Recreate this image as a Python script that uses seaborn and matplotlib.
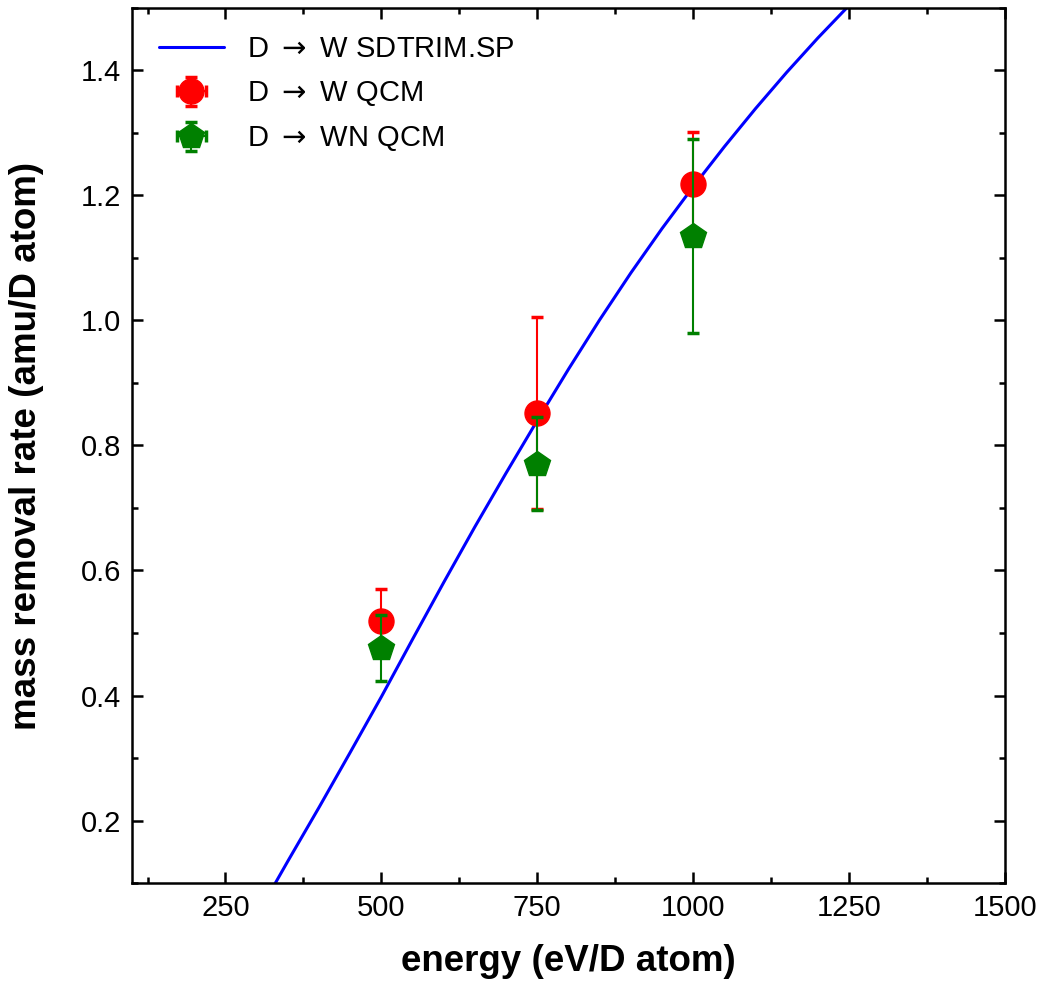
import numpy as np
import pandas as pd
import matplotlib
matplotlib.use("Agg")
import matplotlib.pyplot as plt
import seaborn as sns
from matplotlib.ticker import MultipleLocator

# SDTRIM.SP simulated mass removal rate (amu per D atom) vs energy (eV per D atom)
sim_energy = [300, 330, 350, 400, 450, 500, 550, 600, 650, 700, 750, 800,
              850, 900, 950, 1000, 1050, 1100, 1150, 1200, 1250, 1300]
sim_rate = [0.048, 0.100, 0.135, 0.221, 0.309, 0.398, 0.490, 0.581, 0.670,
            0.756, 0.840, 0.922, 1.001, 1.076, 1.147, 1.214, 1.278, 1.339,
            1.397, 1.452, 1.504, 1.554]

# QCM measurements
qcm_energy = [500, 750, 1000]
w_rate = [0.519, 0.852, 1.219]
w_err = [0.052, 0.154, 0.082]
wn_rate = [0.476, 0.771, 1.135]
wn_err = [0.052, 0.074, 0.155]

labels = [r"D $\rightarrow$ W SDTRIM.SP", r"D $\rightarrow$ W QCM",
          r"D $\rightarrow$ WN QCM"]

sns.set_theme(style="ticks")
plt.rcParams["font.family"] = ["Liberation Sans", "DejaVu Sans"]
plt.rcParams["mathtext.fontset"] = "dejavusans"
for key in ["text.color", "axes.labelcolor", "xtick.color", "ytick.color"]:
    plt.rcParams[key] = "black"

fig = plt.figure(figsize=(10.44, 9.82), dpi=100)
ax = fig.add_axes([0.1264, 0.1008, 0.8362, 0.8911])

sim = pd.DataFrame({"energy": sim_energy, "rate": sim_rate})
sns.lineplot(data=sim, x="energy", y="rate", ax=ax, color="#0000ff",
             linewidth=2.2, label=labels[0], zorder=1)

ax.errorbar(qcm_energy, w_rate, yerr=w_err, xerr=[0, 0, 0], fmt="o",
            color="#ff0000", markersize=18, elinewidth=1.5, capsize=4,
            capthick=2.5, label=labels[1], zorder=3)
ax.errorbar(qcm_energy, wn_rate, yerr=wn_err, xerr=[0, 0, 0], fmt="p",
            color="#008000", markersize=19, elinewidth=1.5, capsize=4,
            capthick=2.5, label=labels[2], zorder=4)

ax.set_xlim(100, 1500)
ax.set_ylim(0.1, 1.5)
ax.xaxis.set_major_locator(MultipleLocator(250))
ax.xaxis.set_minor_locator(MultipleLocator(125))
ax.yaxis.set_minor_locator(MultipleLocator(0.1))
ax.set_yticks([0.2, 0.4, 0.6, 0.8, 1.0, 1.2, 1.4])
ax.set_yticklabels(["0.2", "0.4", "0.6", "0.8", "1.0", "1.2", "1.4"])

ax.tick_params(which="both", direction="in", top=True, right=True,
               width=1.8, colors="black", labelsize=21)
ax.tick_params(which="major", length=8, pad=8)
ax.tick_params(which="minor", length=4)
for sp in ax.spines.values():
    sp.set_linewidth(1.8)
    sp.set_color("black")

ax.set_xlabel("energy (eV/D atom)", fontsize=26.5, fontweight="bold", labelpad=16)
ax.set_ylabel("mass removal rate (amu/D atom)", fontsize=26.5,
              fontweight="bold", labelpad=26)

leg = ax.legend(loc="upper left", frameon=False, fontsize=21,
                handlelength=2.2, handletextpad=0.8, labelspacing=0.55,
                borderaxespad=0.0, bbox_to_anchor=(0.018, 0.982))

fig.savefig("out.png", dpi=100)
